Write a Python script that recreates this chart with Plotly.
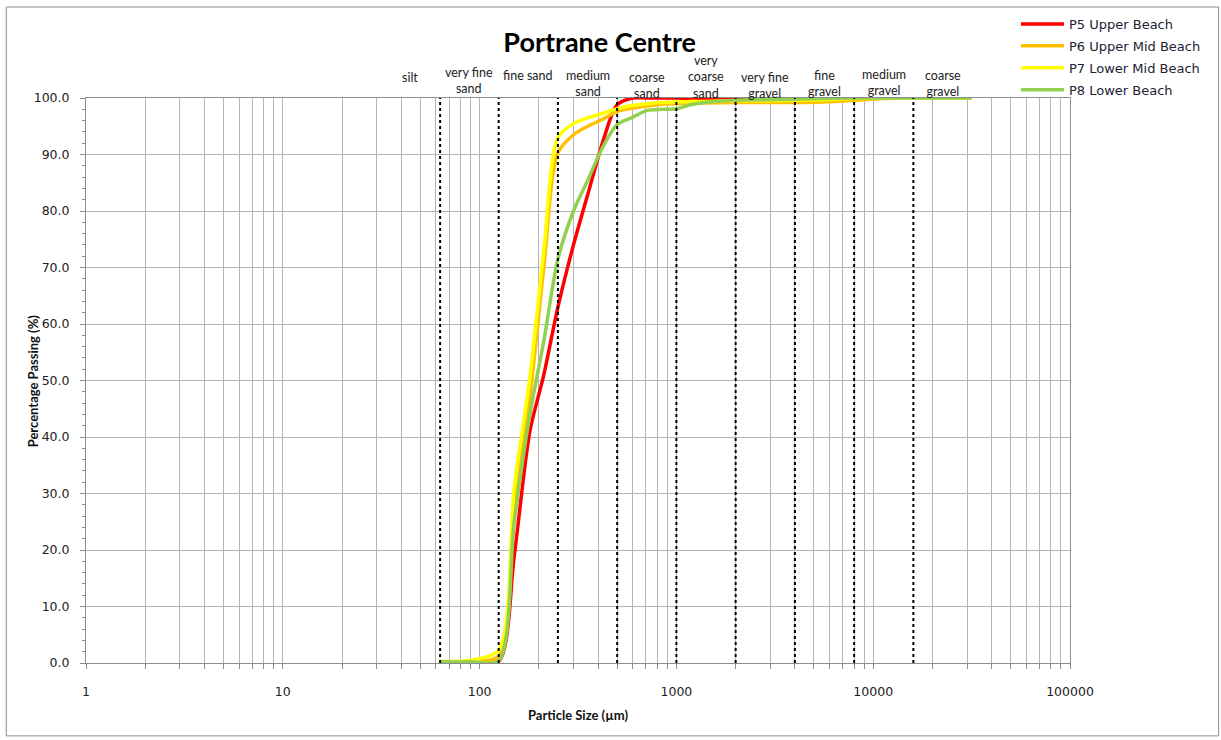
import math
import plotly.graph_objects as go

# ---------------- data ----------------
sizes = [63, 90, 125, 150, 180, 212, 250, 300, 355, 425, 500, 600, 710, 850, 1000,
         1180, 1400, 2000, 2800, 4000, 5600, 8000, 11200, 16000, 22400, 31500]

p5_upper_beach = [0.1, 0.1, 0.3, 19.0, 41.0, 51.0, 63.0, 74.0, 83.0, 92.5, 98.8, 100.0,
                  100.0, 100.0, 100.0, 99.9, 99.9, 99.8, 99.8, 99.8, 99.9, 100.0, 100.0,
                  100.0, 100.0, 100.0]
p6_upper_mid_beach = [0.2, 0.3, 1.2, 28.0, 47.0, 70.0, 90.3, 93.5, 95.0, 96.3, 97.6, 98.2,
                      98.6, 98.9, 99.0, 99.1, 99.1, 99.2, 99.2, 99.2, 99.3, 99.6, 99.9,
                      100.0, 100.0, 100.0]
p7_lower_mid_beach = [0.3, 0.5, 2.3, 31.0, 50.5, 73.0, 93.0, 95.5, 96.5, 97.3, 98.1, 98.7,
                      99.0, 99.2, 99.3, 99.4, 99.4, 99.5, 99.5, 99.6, 99.7, 99.9, 100.0,
                      100.0, 100.0, 100.0]
p8_lower_beach = [0.2, 0.2, 0.4, 25.0, 44.0, 57.0, 71.5, 80.0, 85.5, 91.5, 95.3, 96.6,
                  97.8, 98.0, 98.1, 98.8, 99.2, 99.6, 99.7, 99.8, 99.9, 100.0, 100.0,
                  100.0, 100.0, 100.0]

series_names = ["P5 Upper Beach", "P6 Upper Mid Beach", "P7 Lower Mid Beach", "P8 Lower Beach"]
series_values = [p5_upper_beach, p6_upper_mid_beach, p7_lower_mid_beach, p8_lower_beach]
series_colors = ["#FF0000", "#FFC000", "#FFFF00", "#92D050"]

# Wentworth class boundaries (µm) and class names
class_bounds = [31.5, 63, 125, 250, 500, 1000, 2000, 4000, 8000, 16000, 32000]
class_names = ["silt<br> ", "very fine<br>sand", "fine sand<br> ", "medium<br>sand", "coarse<br>sand",
               "very<br>coarse<br>sand", "very fine<br>gravel", "fine<br>gravel",
               "medium<br>gravel", "coarse<br>gravel"]
label_yshift = [-2, 3, 0, 0, -2, -2, -2, 0, 1, 0]

x_tick_decades = [1, 10, 100, 1000, 10000, 100000]
y_ticks = [0, 10, 20, 30, 40, 50, 60, 70, 80, 90, 100]

# --------------------------------------
fig = go.Figure()

for i, (name, vals, col) in enumerate(zip(series_names, series_values, series_colors)):
    fig.add_trace(go.Scatter(x=sizes, y=vals, mode="lines", name=name,
                             line=dict(color=col, width=3.5, shape="spline", smoothing=0.8),
                             legendgroup=f"g{i}"))

# dotted class-boundary lines
for b in class_bounds[1:-1]:
    fig.add_trace(go.Scatter(x=[b, b], y=[0, 100], mode="lines",
                             line=dict(color="#000000", width=2, dash="dot"),
                             showlegend=False, hoverinfo="skip"))

# x gridlines at every 1..9 x 10^n
x_grid = []
x_text = []
for d in x_tick_decades[:-1]:
    for m in range(1, 10):
        x_grid.append(d * m)
        x_text.append(str(d) if m == 1 else "")
x_grid.append(x_tick_decades[-1])
x_text.append(str(x_tick_decades[-1]))

tick_font = dict(family="DejaVu Sans", size=12.5, color="#222222")

fig.update_xaxes(type="log", range=[0, 5], tickvals=x_grid, ticktext=x_text,
                 showgrid=True, gridcolor="#b4b4b4", gridwidth=1,
                 ticks="outside", ticklen=5, tickcolor="#8c8c8c",
                 showline=True, linecolor="#8c8c8c", linewidth=1, mirror=True,
                 tickfont=tick_font, ticklabelstandoff=12, zeroline=False,
                 title=dict(text="<b>Particle Size (µm)</b>",
                            font=dict(family="Lato", size=13, color="#111111"),
                            standoff=12))
fig.update_yaxes(range=[0, 100], tickvals=y_ticks, tickformat=".1f",
                 showgrid=True, gridcolor="#b4b4b4", gridwidth=1,
                 ticks="outside", ticklen=5, tickcolor="#8c8c8c",
                 minor=dict(dtick=2, ticks="outside", ticklen=3, tickcolor="#8c8c8c", showgrid=False),
                 showline=True, linecolor="#8c8c8c", linewidth=1, mirror=True,
                 tickfont=tick_font, ticklabelstandoff=8, zeroline=False)

# y-axis title
fig.add_annotation(x=-0.054, y=0.5, xref="paper", yref="paper",
                   text="<b>Percentage Passing (%)</b>", textangle=-90, showarrow=False,
                   xanchor="center", yanchor="middle",
                   font=dict(family="Lato", size=13, color="#111111"))

# class labels above the plot
for i, nm in enumerate(class_names):
    gm = math.sqrt(class_bounds[i] * class_bounds[i + 1])
    fig.add_annotation(x=math.log10(gm), y=0.995, xref="x", yref="paper",
                       text=nm, showarrow=False, yanchor="bottom", xanchor="center",
                       yshift=label_yshift[i],
                       font=dict(family="Lato", size=12.5, color="#222222"))

# chart outer border
fig.add_shape(type="rect", xref="paper", yref="paper",
              x0=-0.081, x1=1.151, y0=-0.129, y1=1.161,
              line=dict(color="#8c8c8c", width=1), fillcolor="rgba(0,0,0,0)", layer="below")

fig.update_layout(
    width=1221, height=740,
    margin=dict(l=86, r=151, t=98, b=77, autoexpand=False),
    paper_bgcolor="white", plot_bgcolor="white",
    title=dict(text="<b>Portrane Centre</b>", x=0.522, xref="paper", xanchor="center",
               y=1 - 43 / 740, yanchor="middle",
               font=dict(family="Lato", size=27, color="#000000")),
    legend=dict(x=1016 / 1221, y=1 - 9 / 740, xref="container", yref="container",
                xanchor="left", yanchor="top",
                font=dict(family="DejaVu Sans", size=13, color="#222233"),
                bgcolor="rgba(0,0,0,0)", itemwidth=43, tracegroupgap=2,
                traceorder="grouped"),
    showlegend=True,
)

fig.write_html("out.html", config={"displayModeBar": False},
               post_script="document.body.style.margin='0';document.body.style.overflow='hidden';")
